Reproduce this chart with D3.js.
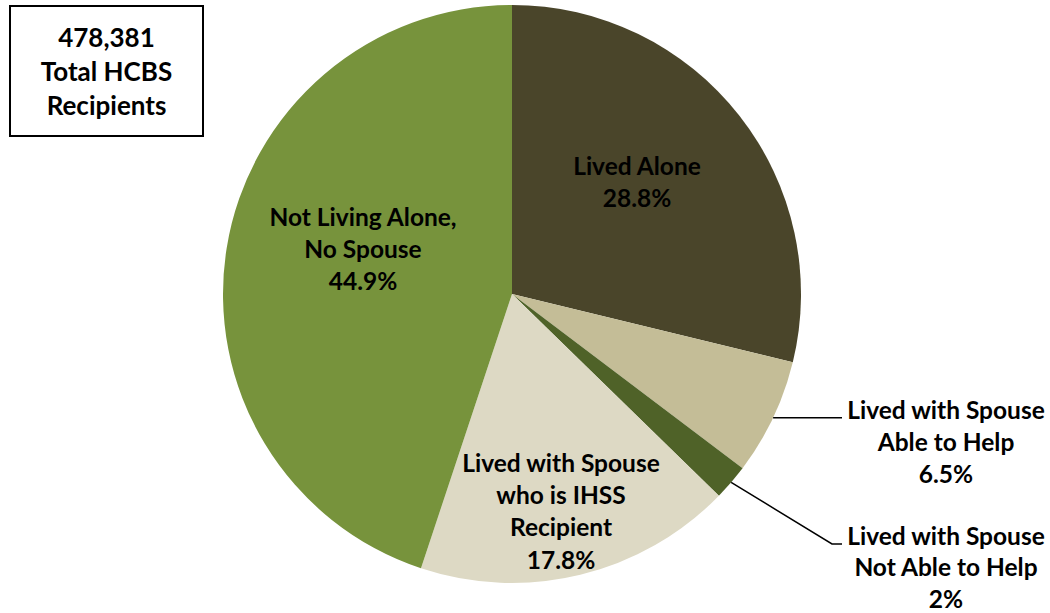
<!DOCTYPE html>
<html>
<head>
<meta charset="utf-8">
<script src="https://cdn.jsdelivr.net/npm/d3@7"></script>
<style>
  html, body { margin: 0; padding: 0; background: #fff; }
  svg text { font-family: Lato, "Open Sans", sans-serif; font-weight: bold; fill: #000; }
</style>
</head>
<body>
<svg id="chart" width="1050" height="613"></svg>
<script>
// Living arrangements of HCBS recipients (percent of total)
const categories = [
  "Lived Alone",
  "Lived with Spouse Able to Help",
  "Lived with Spouse Not Able to Help",
  "Lived with Spouse who is IHSS Recipient",
  "Not Living Alone, No Spouse"
];
const values = [28.8, 6.5, 2, 17.8, 44.9];
const valueLabels = ["28.8%", "6.5%", "2%", "17.8%", "44.9%"];
const labelLines = [
  ["Lived Alone"],
  ["Lived with Spouse", "Able to Help"],
  ["Lived with Spouse", "Not Able to Help"],
  ["Lived with Spouse", "who is IHSS", "Recipient"],
  ["Not Living Alone,", "No Spouse"]
];
const colors = ["#4A452A", "#C4BD97", "#4F6228", "#DDD9C4", "#77933C"];
const totalLines = ["478,381", "Total HCBS", "Recipients"];

const svg = d3.select("#chart");
const cx = 512, cy = 294, radius = 289;
const fontSize = 24.5, lineH = 32.3;

const pie = d3.pie().sort(null).value(d => d)(values);
const arc = d3.arc().innerRadius(0).outerRadius(radius);

const g = svg.append("g").attr("transform", `translate(${cx},${cy})`);
g.selectAll("path.slice")
  .data(pie)
  .join("path")
  .attr("class", "slice")
  .attr("d", arc)
  .attr("fill", (d, i) => colors[i]);

// Label blocks: centre x and the vertical centre of the first line.
// Outside labels get a leader line from the slice edge.
const placement = [
  { x: 637, y: 166 },
  { x: 946, y: 410, leader: "straight", lineY: 418 },
  { x: 946, y: 536, leader: "elbow", lineY: 544 },
  { x: 561, y: 463 },
  { x: 363, y: 217 }
];
const leaderEndX = 842;

function drawLabel(x, yFirst, lines, step) {
  const t = svg.append("text")
    .attr("text-anchor", "middle")
    .attr("font-size", fontSize);
  lines.forEach((s, k) => {
    t.append("tspan")
      .attr("x", x)
      .attr("y", yFirst + k * step + fontSize * 0.36)
      .text(s);
  });
}

pie.forEach((d, i) => {
  const lines = labelLines[i].concat([valueLabels[i]]);
  const p = placement[i];
  if (p.leader) {
    const mid = (d.startAngle + d.endAngle) / 2;
    const px = cx + Math.sin(mid) * radius;
    const py = cy - Math.cos(mid) * radius;
    const path = d3.path();
    path.moveTo(px, py);
    if (p.leader === "elbow") {
      path.lineTo(leaderEndX - 10, p.lineY);
      path.lineTo(leaderEndX, p.lineY);
    } else {
      path.lineTo(leaderEndX, py);
    }
    svg.append("path")
      .attr("d", path.toString())
      .attr("fill", "none")
      .attr("stroke", "#000")
      .attr("stroke-width", 1.5);
  }
  drawLabel(p.x, p.y, lines, p.leader === "elbow" ? 31.5 : lineH);
});

// Total recipients box
svg.append("rect")
  .attr("x", 10).attr("y", 6)
  .attr("width", 193).attr("height", 130)
  .attr("fill", "#fff")
  .attr("stroke", "#000")
  .attr("stroke-width", 2);
totalLines.forEach((s, k) => {
  svg.append("text")
    .attr("x", 106.5)
    .attr("y", 38 + k * 34 + 26 * 0.36)
    .attr("text-anchor", "middle")
    .attr("font-size", 26)
    .text(s);
});
</script>
</body>
</html>
